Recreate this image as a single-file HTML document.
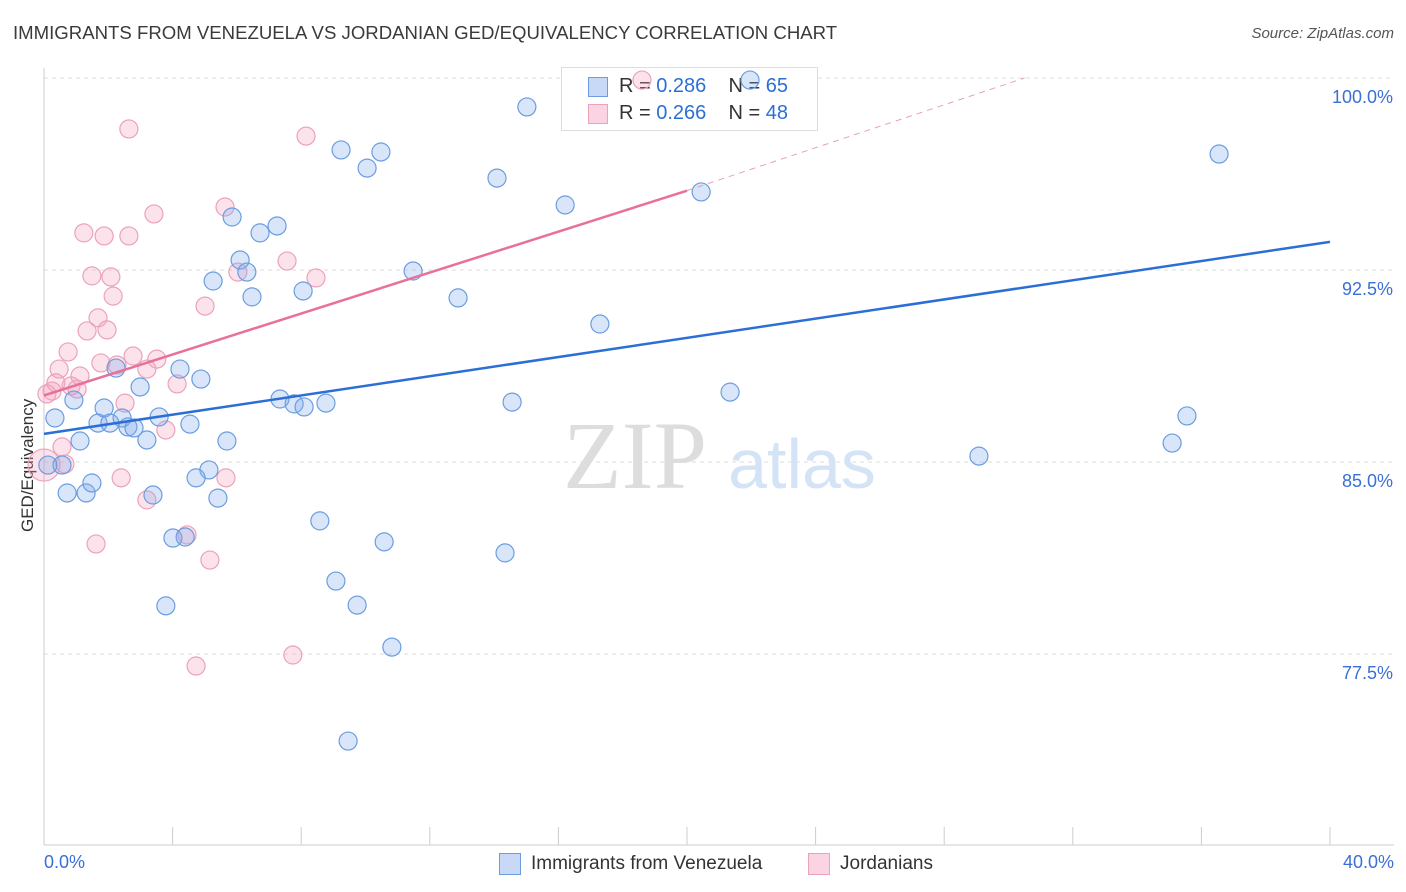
<!DOCTYPE html>
<html><head><meta charset="utf-8"><style>
body{margin:0;background:#fff;font-family:"Liberation Sans",sans-serif;}
#wrap{position:relative;width:1406px;height:892px;overflow:hidden;}
.t{position:absolute;white-space:nowrap;}
</style></head><body>
<div id="wrap">
<div class="t" style="left:13px;top:22px;font-size:18.6px;color:#3a3a3a;">IMMIGRANTS FROM VENEZUELA VS JORDANIAN GED/EQUIVALENCY CORRELATION CHART</div>
<div class="t" style="right:12px;top:25px;font-size:15px;color:#555;font-style:italic;">Source: ZipAtlas.com</div>
<div style="position:absolute;left:561px;top:67px;width:255px;height:62px;border:1px solid #ddd;background:#fff;font-size:20px;color:#333;z-index:1;">
 <div style="position:absolute;left:26px;top:9px;width:18px;height:18px;background:rgba(130,170,235,0.45);border:1px solid #6b9de0;"></div>
 <div class="t" style="left:57px;top:7px;">R = <span style="color:#2b6fd6">0.286</span>&nbsp;&nbsp;&nbsp; N = <span style="color:#2b6fd6">65</span></div>
 <div style="position:absolute;left:26px;top:36px;width:18px;height:18px;background:rgba(244,160,190,0.45);border:1px solid #eba2bb;"></div>
 <div class="t" style="left:57px;top:34px;">R = <span style="color:#2b6fd6">0.266</span>&nbsp;&nbsp;&nbsp; N = <span style="color:#2b6fd6">48</span></div>
</div>
<svg id="plot" width="1406" height="892" style="position:absolute;left:0;top:0;z-index:2;"></svg>
</div>
<script>
const xTicks=[0,4,8,12,16,20,24,28,32,36,40];
const yTicks=[77.5,85,92.5,100];
const yTickLabels=["77.5%","85.0%","92.5%","100.0%"];
const blueX=[15.02,21.96,36.55,9.24,10.48,10.05,14.09,16.21,20.44,5.85,7.25,6.72,6.10,6.31,5.26,6.47,8.06,11.48,12.88,17.29,0.34,0.56,0.12,0.72,1.31,1.49,0.93,1.12,1.87,1.68,2.05,2.24,2.43,2.61,2.80,2.99,3.20,3.58,4.23,4.54,4.88,5.13,4.73,5.41,5.69,3.39,4.01,4.39,3.79,7.34,7.78,8.09,8.77,8.58,9.08,9.74,10.58,10.82,9.46,14.34,14.56,21.34,29.08,35.09,35.55];
const blueY=[98.87,99.92,97.03,97.19,97.11,96.48,96.09,95.04,95.55,94.57,94.22,93.95,92.89,92.42,92.07,91.45,91.68,92.46,91.41,90.39,86.72,84.88,84.88,83.79,83.79,84.18,87.42,85.82,87.11,86.52,86.52,88.67,86.72,86.37,86.33,87.93,85.86,86.76,88.63,86.48,88.24,84.69,84.38,83.59,85.82,83.71,82.03,82.07,79.38,87.46,87.27,87.15,87.30,82.70,80.35,79.41,81.88,77.77,74.10,81.45,87.34,87.73,85.23,85.74,86.80];
const pinkX=[18.60,2.64,8.15,3.42,5.63,1.24,1.87,2.64,1.49,2.08,6.03,7.56,8.46,2.15,5.01,1.68,1.34,1.96,0.75,1.77,2.27,2.77,3.51,3.20,0.47,1.12,0.37,0.84,0.25,1.03,0.09,4.14,2.52,3.79,0.56,0.65,2.40,5.66,3.20,1.62,4.45,5.16,4.73,7.74,0.0];
const pinkY=[99.92,98.01,97.73,94.69,94.96,93.95,93.83,93.83,92.27,92.23,92.42,92.85,92.19,91.48,91.09,90.63,90.12,90.16,89.30,88.87,88.79,89.14,89.02,88.63,88.63,88.36,88.09,87.97,87.77,87.85,87.66,88.05,87.30,86.25,85.59,84.92,84.38,84.38,83.52,81.80,82.15,81.17,77.03,77.46,84.88];
const blueTrend=[[0,86.1],[40,93.6]];
const pinkTrend=[[0,87.6],[20,95.6]];
const pinkDash=[[20,95.6],[30.5,100]];

const X0=44,X1=1330,Y0=78,YB=845;
function sx(v){return X0+(v/40)*(X1-X0);}
function sy(v){return Y0+(100-v)/7.5*192;}
const svg=document.getElementById('plot');
const NS='http://www.w3.org/2000/svg';
function mk(tag,attrs,name){const e=document.createElementNS(NS,tag);for(const k in attrs)e.setAttribute(k,attrs[k]);


svg.appendChild(e);return e;}
yTicks.forEach((v,i)=>{
 if(v<100) mk('line',{x1:X0,x2:1394,y1:sy(v),y2:sy(v),stroke:'#ddd','stroke-dasharray':'4,4'},'gridline');
 else { mk('line',{x1:X0,x2:560,y1:sy(v),y2:sy(v),stroke:'#ddd','stroke-dasharray':'4,4'},'gridline');
        mk('line',{x1:818,x2:1394,y1:sy(v),y2:sy(v),stroke:'#ddd','stroke-dasharray':'4,4'},'gridline'); }
 const t=mk('text',{x:1393,y:sy(v)+25,'text-anchor':'end','font-size':18,fill:'#3b6fd6','font-family':'Liberation Sans'},'y-tick-label');t.textContent=yTickLabels[i];
});
mk('line',{x1:X0,x2:X0,y1:68,y2:YB,stroke:'#ccc'},'y-axis-line');
mk('line',{x1:X0,x2:1394,y1:YB,y2:YB,stroke:'#ccc'},'x-axis-line');
xTicks.forEach(v=>{mk('line',{x1:sx(v),x2:sx(v),y1:YB,y2:YB-18,stroke:'#ccc'},'x-tick');});
const w1=mk('text',{x:635,y:488,'text-anchor':'middle','font-size':96,fill:'#ddd','font-family':'Liberation Serif'},'watermark-zip');w1.textContent='ZIP';
const w2=mk('text',{x:802,y:488,'text-anchor':'middle','font-size':70,fill:'#d5e3f7','font-family':'Liberation Sans'},'watermark-atlas');w2.textContent='atlas';
pinkX.forEach((x,i)=>{mk('circle',{cx:sx(x),cy:sy(pinkY[i]),r:i==pinkX.length-1?16:9,fill:'rgba(244,160,190,0.3)',stroke:'#eba2bb','stroke-width':1.2},'jordanian-point');});
blueX.forEach((x,i)=>{mk('circle',{cx:sx(x),cy:sy(blueY[i]),r:9,fill:'rgba(130,170,235,0.3)',stroke:'#6b9de0','stroke-width':1.2},'venezuela-point');});
mk('line',{x1:sx(blueTrend[0][0]),y1:sy(blueTrend[0][1]),x2:sx(blueTrend[1][0]),y2:sy(blueTrend[1][1]),stroke:'#2b6fd6','stroke-width':2.5},'venezuela-trendline');
mk('line',{x1:sx(pinkTrend[0][0]),y1:sy(pinkTrend[0][1]),x2:sx(pinkTrend[1][0]),y2:sy(pinkTrend[1][1]),stroke:'#e8709a','stroke-width':2.5},'jordanian-trendline');
mk('line',{x1:sx(pinkDash[0][0]),y1:sy(pinkDash[0][1]),x2:sx(pinkDash[1][0]),y2:sy(pinkDash[1][1]),stroke:'#e8a0b8','stroke-width':1,'stroke-dasharray':'6,5'},'jordanian-trend-extension');
</script>
<div class="t" style="left:44px;top:852px;font-size:18px;color:#3b6fd6;">0.0%</div>
<div class="t" style="right:12px;top:852px;font-size:18px;color:#3b6fd6;">40.0%</div>
<div class="t" style="font-size:17px;color:#333;transform:rotate(-90deg);transform-origin:0 0;left:18px;top:532px;">GED/Equivalency</div>
<div style="position:absolute;left:499px;top:853px;width:20px;height:20px;background:rgba(130,170,235,0.45);border:1px solid #6b9de0;"></div>
<div class="t" style="left:531px;top:853px;font-size:19px;color:#333;">Immigrants from Venezuela</div>
<div style="position:absolute;left:808px;top:853px;width:20px;height:20px;background:rgba(244,160,190,0.45);border:1px solid #eba2bb;"></div>
<div class="t" style="left:840px;top:853px;font-size:19px;color:#333;">Jordanians</div>
</body></html>
